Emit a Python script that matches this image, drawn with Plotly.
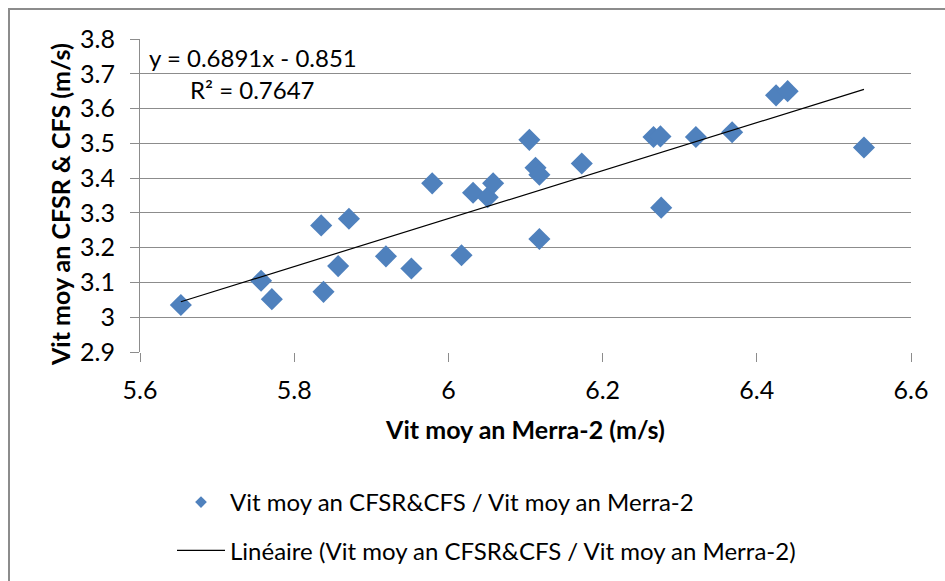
import plotly.graph_objects as go

# ---- data ----
x_merra = [5.653, 5.757, 5.771, 5.835, 5.838, 5.857, 5.871, 5.919, 5.952, 5.979,
           6.017, 6.032, 6.051, 6.058, 6.105, 6.113, 6.118, 6.118, 6.173, 6.266,
           6.275, 6.276, 6.321, 6.368, 6.425, 6.440, 6.539]
y_cfsr = [3.035, 3.105, 3.052, 3.264, 3.073, 3.147, 3.283, 3.175, 3.140, 3.385,
          3.178, 3.358, 3.345, 3.385, 3.510, 3.430, 3.410, 3.225, 3.442, 3.518,
          3.520, 3.315, 3.518, 3.532, 3.638, 3.650, 3.488]
trend_slope = 0.6891
trend_intercept = -0.851
r2 = 0.7647

x_tick_vals = [5.6, 5.8, 6.0, 6.2, 6.4, 6.6]
x_tick_text = ["5.6", "5.8", "6", "6.2", "6.4", "6.6"]
y_tick_vals = [2.9, 3.0, 3.1, 3.2, 3.3, 3.4, 3.5, 3.6, 3.7, 3.8]
y_tick_text = ["2.9", "3", "3.1", "3.2", "3.3", "3.4", "3.5", "3.6", "3.7", "3.8"]

series_name = "Vit moy an CFSR&CFS / Vit moy an Merra-2"
trend_name = "Linéaire (Vit moy an CFSR&CFS / Vit moy an Merra-2)"
x_title = "Vit moy an Merra-2 (m/s)"
y_title = "Vit moy an CFSR & CFS (m/s)"

FONT = "Lato"
BLUE = "#4F81BD"
W, H = 945, 581
L, R, T, B = 140, 34, 39, 229
pw, ph = W - L - R, H - T - B

def px_x(p):
    return (p - L) / pw

def px_y(p):
    return (H - B - p) / ph

tx = [min(x_merra), max(x_merra)]
ty = [trend_slope * v + trend_intercept for v in tx]

fig = go.Figure()
# data points
fig.add_trace(go.Scatter(
    x=x_merra, y=y_cfsr, mode="markers", name=series_name,
    marker=dict(symbol="diamond", size=17, color=BLUE),
    showlegend=False,
))
# legend entry for the points (smaller diamond, as in the reference)
fig.add_trace(go.Scatter(
    x=[None], y=[None], mode="markers", name=series_name,
    marker=dict(symbol="diamond", size=9, color=BLUE),
    legendgroup="a",
))
# linear trendline
fig.add_trace(go.Scatter(
    x=tx, y=ty, mode="lines", name=trend_name,
    line=dict(color="#000000", width=1.2),
    legendgroup="b",
))

fig.update_layout(
    width=W, height=H,
    margin=dict(l=L, r=R, t=T, b=B, autoexpand=False),
    paper_bgcolor="white", plot_bgcolor="white",
    font=dict(family=FONT, size=24, color="#000000"),
    showlegend=True,
    legend=dict(
        xref="container", yref="container",
        x=172 / W, y=1 - 480 / H, xanchor="left", yanchor="top",
        orientation="v", itemwidth=48,
        tracegroupgap=14, traceorder="grouped",
        font=dict(family=FONT, size=24, color="#000000"),
        bgcolor="rgba(0,0,0,0)",
    ),
    xaxis=dict(
        range=[5.6, 6.6], tickvals=x_tick_vals, ticktext=x_tick_text,
        showgrid=False, zeroline=False,
        showline=False, ticks="outside", ticklen=9, tickcolor="#8c8c8c",
        tickfont=dict(family=FONT, size=25), ticklabelstandoff=7,
        title=dict(text="<b>" + x_title + "</b>", font=dict(family=FONT, size=25), standoff=18),
    ),
    yaxis=dict(
        range=[2.9, 3.8], tickvals=y_tick_vals, ticktext=y_tick_text,
        showgrid=True, gridcolor="#8c8c8c", gridwidth=1.2, zeroline=False,
        showline=True, linecolor="#8c8c8c", linewidth=1.2,
        ticks="outside", ticklen=9, tickcolor="#8c8c8c",
        tickfont=dict(family=FONT, size=25), ticklabelstandoff=10,
    ),
    annotations=[
        dict(text="<b>" + y_title + "</b>", textangle=-90,
             xref="paper", yref="paper", x=px_x(60), y=px_y(205),
             xanchor="center", yanchor="middle", showarrow=False,
             font=dict(family=FONT, size=25)),
        dict(text="y = %.4fx - %.3f" % (trend_slope, -trend_intercept),
             xref="paper", yref="paper", x=px_x(147), y=px_y(57.7),
             xanchor="left", yanchor="middle", showarrow=False,
             font=dict(family=FONT, size=24)),
        dict(text="R² = %.4f" % r2,
             xref="paper", yref="paper", x=px_x(188), y=px_y(89.3),
             xanchor="left", yanchor="middle", showarrow=False,
             font=dict(family=FONT, size=24)),
    ],
    shapes=[
        dict(type="rect", xref="paper", yref="paper",
             x0=px_x(9), y0=px_y(9), x1=px_x(990), y1=px_y(620),
             line=dict(color="#8c8c8c", width=2), layer="below"),
    ],
)

fig.write_html("out.html")
